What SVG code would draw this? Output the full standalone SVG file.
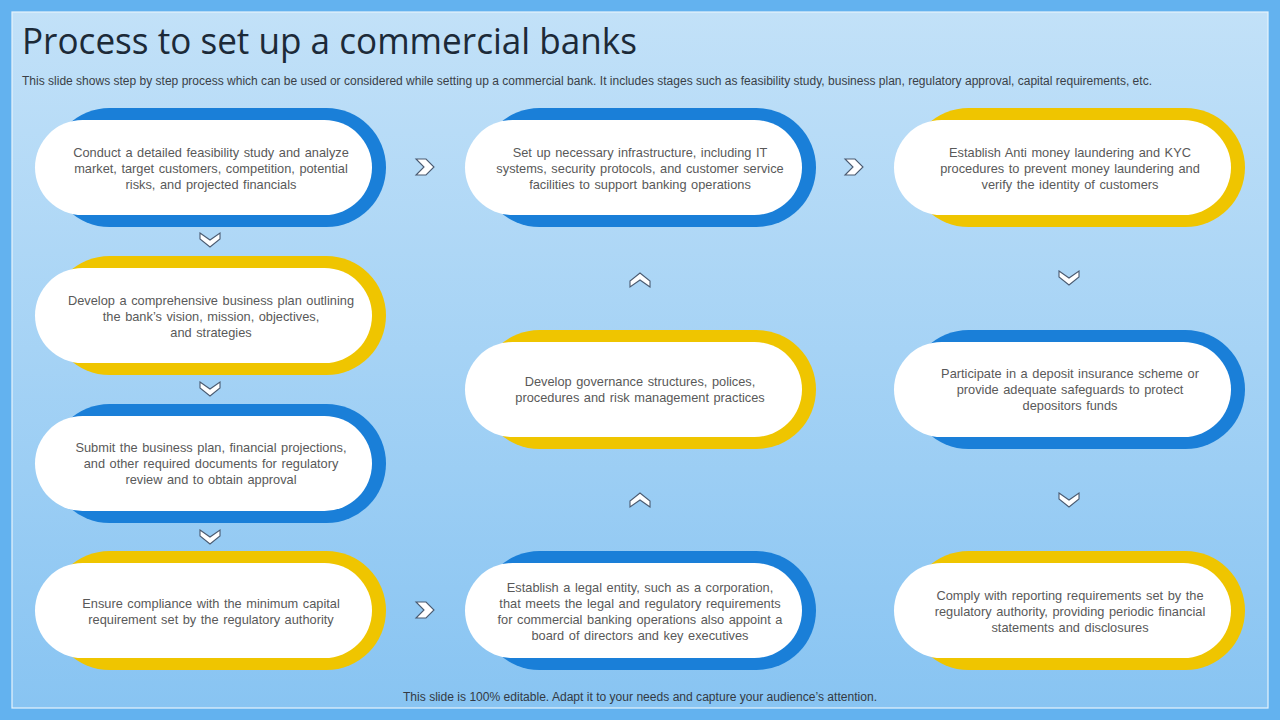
<svg xmlns="http://www.w3.org/2000/svg" width="1280" height="720" viewBox="0 0 1280 720">
<defs>
<linearGradient id="bg" x1="0" y1="0" x2="0" y2="1">
<stop offset="0" stop-color="#c2e1f8"/>
<stop offset="1" stop-color="#88c4f2"/>
</linearGradient>
<path id="chevR" d="M-9,-8 L1,-8 L9,0 L1,8 L-9,8 L-1,0 Z"/>
<path id="chevD" d="M-10,-7 L0,0 L10,-7 L10,-1 L0,7 L-10,-1 Z"/>
</defs>
<style>
.back-blue{fill:#1a7fd8}
.back-yellow{fill:#efc500}
.pill{fill:#ffffff}
.t{font-family:"Liberation Sans",Arial,sans-serif;font-size:12.8px;word-spacing:1px;fill:#595959;text-anchor:middle}
.chev{fill:#ffffff;stroke:#4a5a70;stroke-width:1.1;stroke-linejoin:miter}
</style>
<rect x="0" y="0" width="1280" height="720" fill="#63b2ef"/>
<rect x="12" y="12" width="1256" height="696" fill="url(#bg)" stroke="#e6f3fc" stroke-width="1.2"/>
<text x="22" y="54" font-family="'Open Sans','Noto Sans',sans-serif" font-size="37" fill="#1c2a38" textLength="615" lengthAdjust="spacingAndGlyphs">Process to set up a commercial banks</text>
<text x="22" y="85" font-family="'Liberation Sans',Arial,sans-serif" font-size="12" fill="#3a3f47" textLength="1130" lengthAdjust="spacingAndGlyphs">This slide shows step by step process which can be used or considered while setting up a commercial bank. It includes stages such as feasibility study, business plan, regulatory approval, capital requirements, etc.</text>

<g id="node-feasibility">
<rect class="back-blue" x="50" y="108" width="336" height="119" rx="59.5"/>
<rect class="pill" x="35" y="120" width="337" height="95" rx="47.5"/>
<text class="t" x="211" y="157">Conduct a detailed feasibility study and analyze</text>
<text class="t" x="211" y="173">market, target customers, competition, potential</text>
<text class="t" x="211" y="189">risks, and projected financials</text>
</g>
<g id="node-business-plan">
<rect class="back-yellow" x="50" y="256" width="336" height="119" rx="59.5"/>
<rect class="pill" x="35" y="268" width="337" height="95" rx="47.5"/>
<text class="t" x="211" y="305">Develop a comprehensive business plan outlining</text>
<text class="t" x="211" y="321">the bank’s vision, mission, objectives,</text>
<text class="t" x="211" y="337">and strategies</text>
</g>
<g id="node-regulatory">
<rect class="back-blue" x="50" y="404" width="336" height="119" rx="59.5"/>
<rect class="pill" x="35" y="416" width="337" height="95" rx="47.5"/>
<text class="t" x="211" y="452">Submit the business plan, financial projections,</text>
<text class="t" x="211" y="468">and other required documents for regulatory</text>
<text class="t" x="211" y="484">review and to obtain approval</text>
</g>
<g id="node-capital">
<rect class="back-yellow" x="50" y="551" width="336" height="119" rx="59.5"/>
<rect class="pill" x="35" y="563" width="337" height="95" rx="47.5"/>
<text class="t" x="211" y="608">Ensure compliance with the minimum capital</text>
<text class="t" x="211" y="624">requirement set by the regulatory authority</text>
</g>
<g id="node-legal-entity">
<rect class="back-blue" x="480" y="551" width="336" height="119" rx="59.5"/>
<rect class="pill" x="465" y="563" width="337" height="95" rx="47.5"/>
<text class="t" x="640" y="592">Establish a legal entity, such as a corporation,</text>
<text class="t" x="640" y="608">that meets the legal and regulatory requirements</text>
<text class="t" x="640" y="624">for commercial banking operations also appoint a</text>
<text class="t" x="640" y="640">board of directors and key executives</text>
</g>
<g id="node-governance">
<rect class="back-yellow" x="480" y="330" width="336" height="119" rx="59.5"/>
<rect class="pill" x="465" y="342" width="337" height="95" rx="47.5"/>
<text class="t" x="640" y="386">Develop governance structures, polices,</text>
<text class="t" x="640" y="402">procedures and risk management practices</text>
</g>
<g id="node-infrastructure">
<rect class="back-blue" x="480" y="108" width="336" height="119" rx="59.5"/>
<rect class="pill" x="465" y="120" width="337" height="95" rx="47.5"/>
<text class="t" x="640" y="157">Set up necessary infrastructure, including IT</text>
<text class="t" x="640" y="173">systems, security protocols, and customer service</text>
<text class="t" x="640" y="189">facilities to support banking operations</text>
</g>
<g id="node-aml-kyc">
<rect class="back-yellow" x="909" y="108" width="336" height="119" rx="59.5"/>
<rect class="pill" x="894" y="120" width="337" height="95" rx="47.5"/>
<text class="t" x="1070" y="157">Establish Anti money laundering and KYC</text>
<text class="t" x="1070" y="173">procedures to prevent money laundering and</text>
<text class="t" x="1070" y="189">verify the identity of customers</text>
</g>
<g id="node-deposit-insurance">
<rect class="back-blue" x="909" y="330" width="336" height="119" rx="59.5"/>
<rect class="pill" x="894" y="342" width="337" height="95" rx="47.5"/>
<text class="t" x="1070" y="378">Participate in a deposit insurance scheme or</text>
<text class="t" x="1070" y="394">provide adequate safeguards to protect</text>
<text class="t" x="1070" y="410">depositors funds</text>
</g>
<g id="node-reporting">
<rect class="back-yellow" x="909" y="551" width="336" height="119" rx="59.5"/>
<rect class="pill" x="894" y="563" width="337" height="95" rx="47.5"/>
<text class="t" x="1070" y="600">Comply with reporting requirements set by the</text>
<text class="t" x="1070" y="616">regulatory authority, providing periodic financial</text>
<text class="t" x="1070" y="632">statements and disclosures</text>
</g>

<g id="connectors">
<use href="#chevD" class="chev" transform="translate(210,240)"/>
<use href="#chevD" class="chev" transform="translate(210,389)"/>
<use href="#chevD" class="chev" transform="translate(210,537)"/>
<use href="#chevR" class="chev" transform="translate(425,610)"/>
<use href="#chevD" class="chev" transform="translate(640,500) rotate(180)"/>
<use href="#chevD" class="chev" transform="translate(640,280) rotate(180)"/>
<use href="#chevR" class="chev" transform="translate(425,167)"/>
<use href="#chevR" class="chev" transform="translate(854,167)"/>
<use href="#chevD" class="chev" transform="translate(1069,278)"/>
<use href="#chevD" class="chev" transform="translate(1069,500)"/>
</g>

<text x="640" y="701" font-family="'Liberation Sans',Arial,sans-serif" font-size="12" fill="#333a44" text-anchor="middle" textLength="474" lengthAdjust="spacingAndGlyphs">This slide is 100% editable. Adapt it to your needs and capture your audience’s attention.</text>
</svg>
